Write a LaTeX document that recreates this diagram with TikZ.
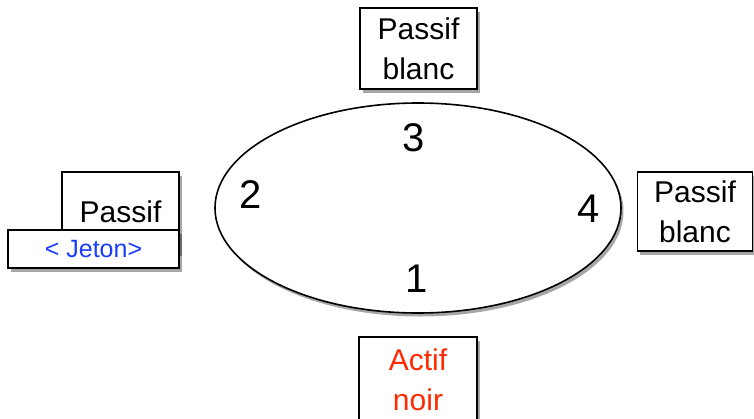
\documentclass[tikz,border=0pt]{standalone}
\usepackage{fontspec}
\setmainfont{Liberation Sans}
\usetikzlibrary{shapes.geometric, shadows}
\definecolor{actifRed}{HTML}{FF2A00}
\definecolor{jetonBlue}{HTML}{1A3CFF}
\tikzset{
    % Boxes
    softShadow/.style={drop shadow={fill=black, opacity=0.35, shadow xshift=2.5pt, shadow yshift=-3.5pt}},
    siteBox/.style={
        rectangle, draw=black, line width=1.6pt, fill=white, softShadow,
        align=center, inner sep=0pt, font=\fontsize{30}{40}\selectfont
    },
    jetonBox/.style={
        rectangle, draw=black, line width=1.6pt, fill=white, softShadow,
        inner sep=0pt, minimum width=171pt, minimum height=38pt,
        font=\fontsize{25}{28}\selectfont, text=jetonBlue
    },
    % Ring
    ringShape/.style={
        ellipse, draw=black, line width=1.6pt, fill=white, softShadow,
        minimum width=406pt, minimum height=210pt, inner sep=0pt
    },
    siteNum/.style={font=\fontsize{40}{44}\selectfont, inner sep=0pt}
}
\begin{document}
\begin{tikzpicture}[x=1pt, y=-1pt]
    \useasboundingbox (0,0) rectangle (754,418);

    % Ring of sites
    \node[ringShape] (ring) at (418,208) {};
    \node[siteNum] (n3) at (413.5,138) {3};
    \node[siteNum] (n2) at (251,195) {2};
    \node[siteNum] (n4) at (588.5,209) {4};
    \node[siteNum] (n1) at (417,279) {1};

    % Sites
    \node[siteBox, minimum width=117pt, minimum height=81pt] (top) at (418.5,48.5) {Passif\\blanc};
    \node[siteBox, minimum width=115pt, minimum height=79pt] (right) at (695,211.5) {Passif\\blanc};
    \node[siteBox, minimum width=118pt, minimum height=86pt, text=actifRed] (bottom) at (418,380) {Actif\\noir};
    \node[siteBox, minimum width=117pt, minimum height=80pt] (left) at (120.5,212) {Passif};
    \node[jetonBox] (jeton) at (93.5,249) {< Jeton>};
\end{tikzpicture}
\end{document}
